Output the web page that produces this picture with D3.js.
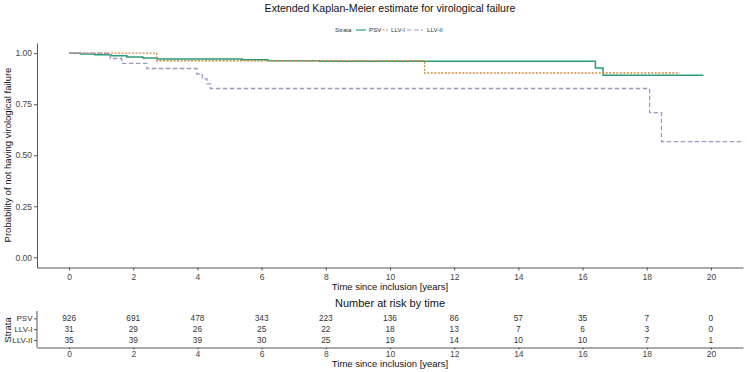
<!DOCTYPE html>
<html>
<head>
<meta charset="utf-8">
<script src="https://cdn.jsdelivr.net/npm/d3@7"></script>
<style>
  body { margin: 0; background: #fff; }
  svg { display: block; font-family: "Liberation Sans", Arial, sans-serif; }
</style>
</head>
<body>
<svg id="chart" width="747" height="372"></svg>
<script>
// ---- data ----
const timeTicks = [0, 2, 4, 6, 8, 10, 12, 14, 16, 18, 20];
const probTicks = [0, 0.25, 0.5, 0.75, 1];
const strata = ["PSV", "LLV-I", "LLV-II"];

const psvTime = [0, 0.35, 0.8, 1.3, 1.8, 2.3, 2.75, 5.4, 6.2, 7.8, 16.4, 16.64, 19.77];
const psvSurv = [1, 0.996, 0.992, 0.987, 0.982, 0.977, 0.971, 0.968, 0.963, 0.961, 0.928, 0.892, 0.892];

const llv1Time = [0, 2.73, 11.08, 19.03];
const llv1Surv = [1, 0.963, 0.903, 0.903];

const llv2Time = [0, 1.28, 1.64, 2.42, 3.98, 4.15, 4.3, 4.4, 18.09, 18.46, 21.6];
const llv2Surv = [1, 0.974, 0.95, 0.925, 0.898, 0.874, 0.85, 0.827, 0.709, 0.567, 0.567];

const riskPSV  = [926, 691, 478, 343, 223, 136, 86, 57, 35, 7, 0];
const riskLLV1 = [31, 29, 26, 25, 22, 18, 13, 7, 6, 3, 0];
const riskLLV2 = [35, 39, 39, 30, 25, 19, 14, 10, 10, 7, 1];

// ---- styles ----
const colors = { "PSV": "#2a9b7d", "LLV-I": "#cf8a3c", "LLV-II": "#9c98c2" };
const dashes = { "PSV": null, "LLV-I": "2,1.5", "LLV-II": "4.5,2.5" };

const svg = d3.select("#chart");
const panel = { left: 37, right: 743, top: 43, bottom: 267.5 };

const x = d3.scaleLinear().domain([-1, 21]).range([panel.left, panel.right]);
const y = d3.scaleLinear().domain([-0.05, 1.05]).range([panel.bottom, panel.top]);

// title
svg.append("text").attr("x", 390).attr("y", 12).attr("text-anchor", "middle")
  .attr("font-size", 10.6).attr("fill", "#111")
  .text("Extended Kaplan-Meier estimate for virological failure");

// legend
const lg = svg.append("g").attr("font-size", 6.2).attr("fill", "#333");
lg.append("text").attr("x", 335).attr("y", 32.2).text("Strata");
const legendItems = [
  { name: "PSV", x0: 356, w: 10, tx: 369 },
  { name: "LLV-I", x0: 379, w: 10, tx: 391 },
  { name: "LLV-II", x0: 407, w: 16, tx: 427 }
];
legendItems.forEach(d => {
  lg.append("line").attr("x1", d.x0).attr("x2", d.x0 + d.w).attr("y1", 30).attr("y2", 30)
    .attr("stroke", colors[d.name]).attr("stroke-width", 1.2)
    .attr("stroke-dasharray", dashes[d.name]);
  lg.append("text").attr("x", d.tx).attr("y", 32.2).text(d.name);
});

// clip
svg.append("clipPath").attr("id", "clip").append("rect")
  .attr("x", panel.left).attr("y", panel.top - 5)
  .attr("width", panel.right - panel.left).attr("height", panel.bottom - panel.top + 5);

// curves
const series = [
  { name: "PSV", t: psvTime, s: psvSurv },
  { name: "LLV-I", t: llv1Time, s: llv1Surv },
  { name: "LLV-II", t: llv2Time, s: llv2Surv }
];
const line = d3.line().x(d => x(d[0])).y(d => y(d[1])).curve(d3.curveStepAfter);
const cg = svg.append("g").attr("clip-path", "url(#clip)");
series.forEach(sr => {
  const pts = sr.t.map((t, i) => [t, sr.s[i]]);
  cg.append("path").attr("d", line(pts)).attr("fill", "none")
    .attr("stroke", colors[sr.name]).attr("stroke-width", sr.name === "PSV" ? 1.5 : 1.3)
    .attr("stroke-dasharray", dashes[sr.name]);
});

// axes
function styleAxis(g) {
  g.selectAll(".domain").attr("stroke", "#555").attr("stroke-width", 1);
  g.selectAll(".tick line").attr("stroke", "#555");
  g.selectAll(".tick text").attr("fill", "#444").attr("font-size", 8.5)
    .attr("font-family", "Liberation Sans, Arial, sans-serif");
}
const xAxis = svg.append("g").attr("transform", `translate(0,${panel.bottom})`)
  .call(d3.axisBottom(x).tickValues(timeTicks).tickSize(3).tickSizeOuter(0).tickPadding(3));
styleAxis(xAxis);
const yAxis = svg.append("g").attr("transform", `translate(${panel.left},0)`)
  .call(d3.axisLeft(y).tickValues(probTicks).tickFormat(d3.format(".2f")).tickSize(3).tickSizeOuter(0).tickPadding(2));
styleAxis(yAxis);

svg.append("text").attr("x", 390).attr("y", 290).attr("text-anchor", "middle")
  .attr("font-size", 9.5).attr("fill", "#111").text("Time since inclusion [years]");
svg.append("text").attr("transform", "translate(11,155) rotate(-90)").attr("text-anchor", "middle")
  .attr("font-size", 9.5).attr("fill", "#111").text("Probability of not having virological failure");

// risk table
svg.append("text").attr("x", 390).attr("y", 307).attr("text-anchor", "middle")
  .attr("font-size", 11).attr("fill", "#111").text("Number at risk by time");

const tpanel = { top: 311, bottom: 347.5 };
const yT = d3.scalePoint().domain(strata).range([318.3, 340]);
const riskRows = [riskPSV, riskLLV1, riskLLV2];
const tg = svg.append("g").attr("font-size", 8.3).attr("fill", "#333").attr("text-anchor", "middle");
strata.forEach((s, i) => {
  riskRows[i].forEach((v, j) => {
    tg.append("text").attr("x", x(timeTicks[j])).attr("y", yT(s)).attr("dy", "0.35em").text(v);
  });
});
const xAxisT = svg.append("g").attr("transform", `translate(0,${tpanel.bottom})`)
  .call(d3.axisBottom(x).tickValues(timeTicks).tickSize(2).tickSizeOuter(0).tickPadding(1));
styleAxis(xAxisT);
const yTAxis = svg.append("g").attr("transform", `translate(${panel.left},0)`)
  .call(d3.axisLeft(yT).tickSize(3).tickPadding(1.5));
yTAxis.select(".domain").attr("d", `M-0,${tpanel.top}V${tpanel.bottom}`);
styleAxis(yTAxis);
yTAxis.selectAll(".tick text").attr("font-size", 8).attr("fill", "#333");

svg.append("text").attr("x", 390).attr("y", 367).attr("text-anchor", "middle")
  .attr("font-size", 9.5).attr("fill", "#111").text("Time since inclusion [years]");
svg.append("text").attr("transform", "translate(11,330) rotate(-90)").attr("text-anchor", "middle")
  .attr("font-size", 9.5).attr("fill", "#111").text("Strata");
</script>
</body>
</html>
